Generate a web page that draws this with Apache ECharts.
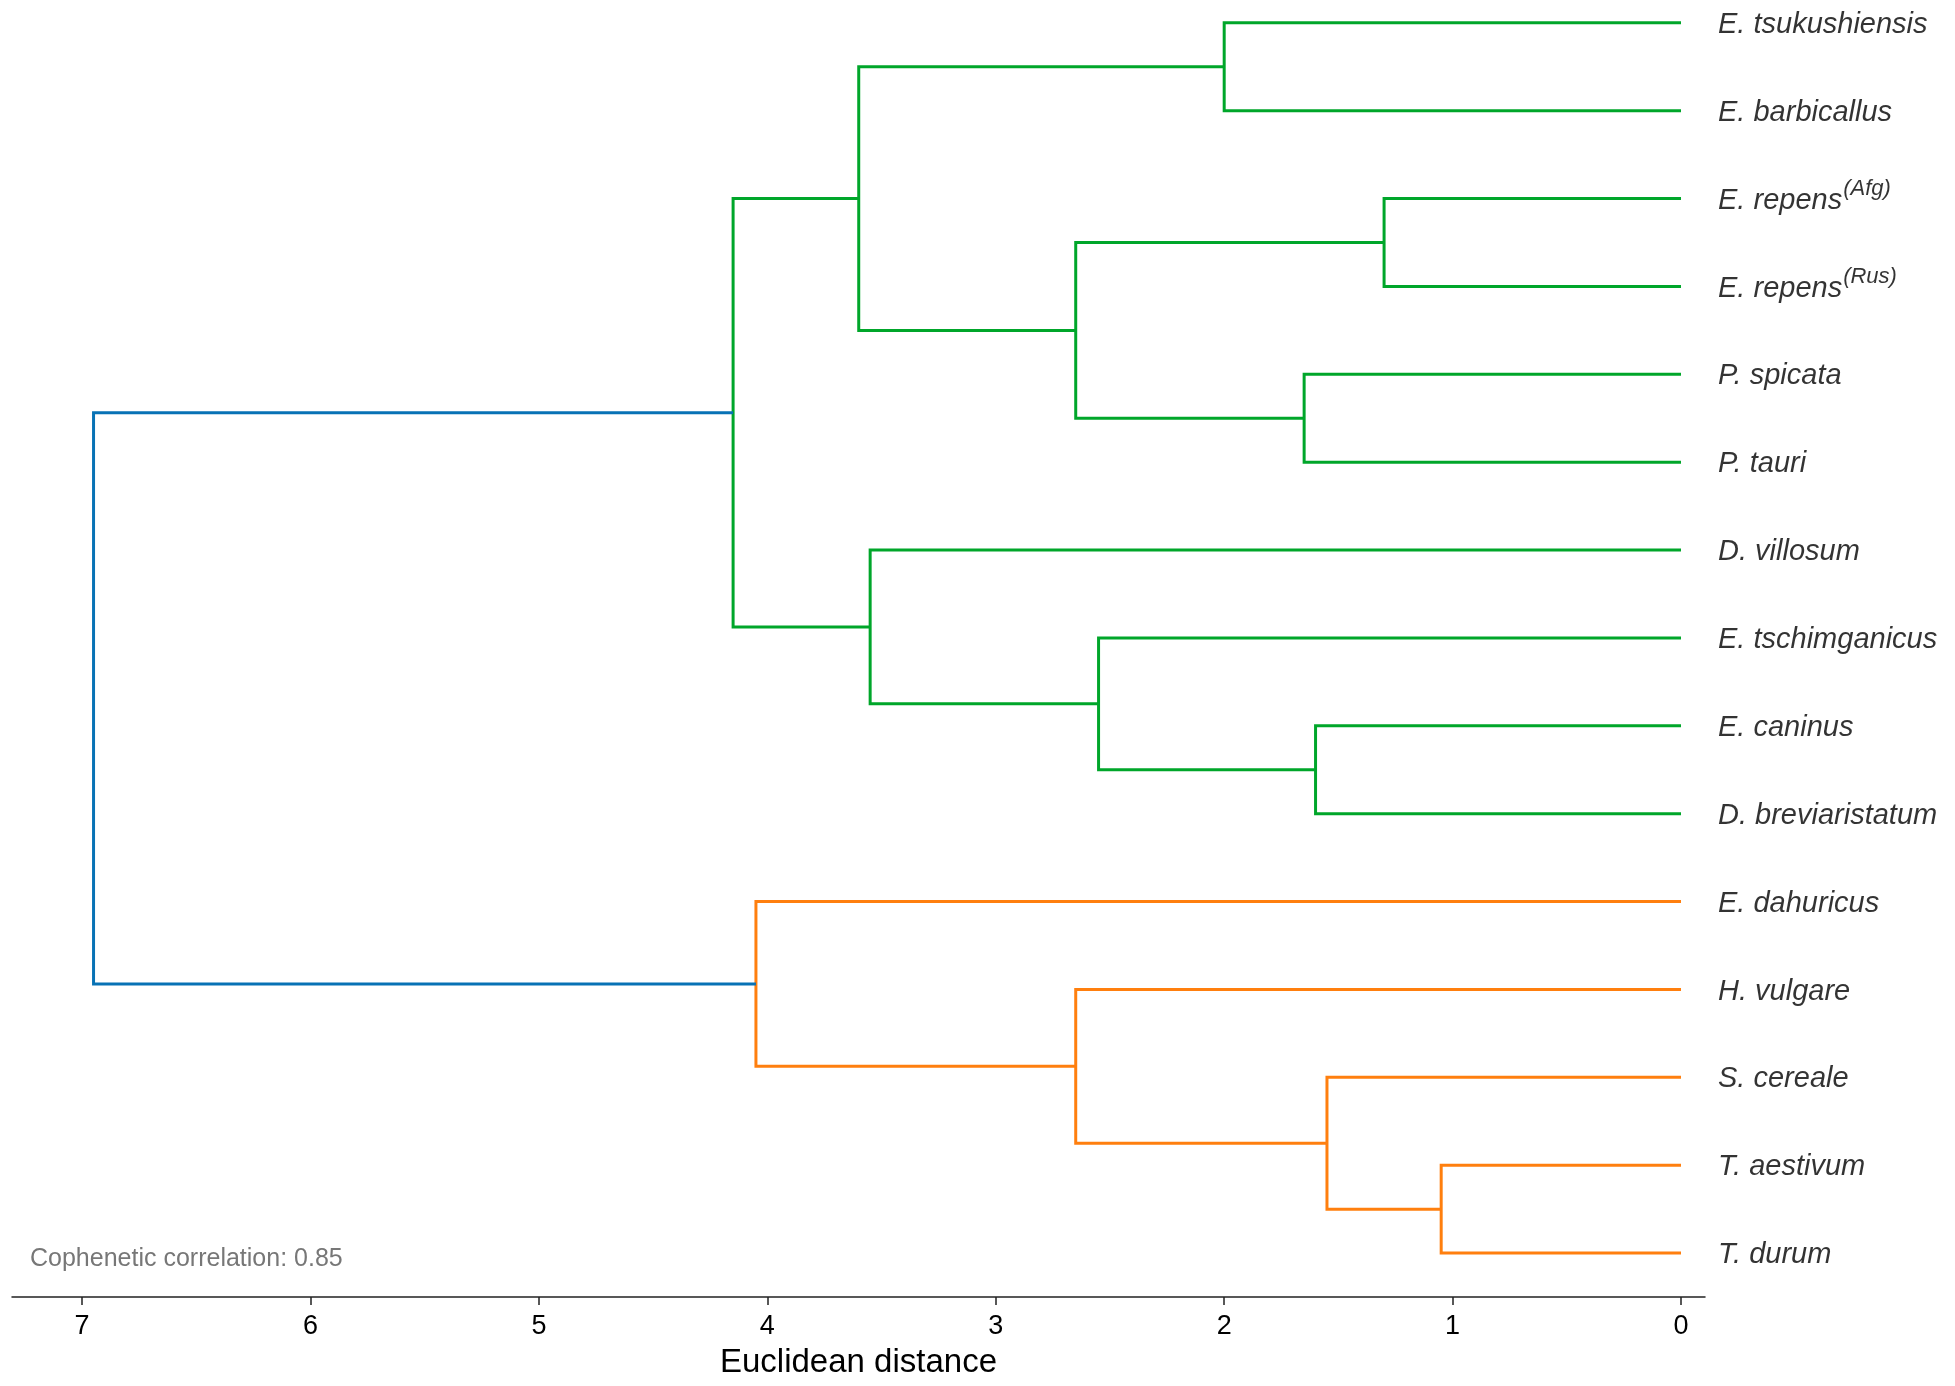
<!DOCTYPE html>
<html>
<head>
<meta charset="utf-8">
<title>Dendrogram</title>
<script src="https://cdn.jsdelivr.net/npm/echarts@6/dist/echarts.min.js"></script>
<style>
	html, body { margin: 0; padding: 0; background: #fff; }
	#main { width: 1955px; height: 1386px; }
</style>
</head>
<body>
<div id="main"></div>
<script>
// leaves, top to bottom
var leafNames = ['E. tsukushiensis', 'E. barbicallus', 'E. repens', 'E. repens', 'P. spicata', 'P. tauri',
	'D. villosum', 'E. tschimganicus', 'E. caninus', 'D. breviaristatum',
	'E. dahuricus', 'H. vulgare', 'S. cereale', 'T. aestivum', 'T. durum'];
var leafSup = ['', '', '(Afg)', '(Rus)', '', '', '', '', '', '', '', '', '', '', ''];

// merges: node ids 0..14 are leaves, 15.. are clusters in order of creation
var mergeA = [0, 2, 4, 16, 15, 8, 7, 6, 19, 13, 12, 11, 10, 23];
var mergeB = [1, 3, 5, 17, 18, 9, 20, 21, 22, 14, 24, 25, 26, 27];
var mergeDist = [2.00, 1.30, 1.65, 2.65, 3.60, 1.60, 2.55, 3.55, 4.15, 1.05, 1.55, 2.65, 4.05, 6.95];
var mergeGroup = ['g', 'g', 'g', 'g', 'g', 'g', 'g', 'g', 'g', 'o', 'o', 'o', 'o', 'b'];

var tickValues = [0, 1, 2, 3, 4, 5, 6, 7];
var corrText = 'Cophenetic correlation: 0.85';

var colors = { g: '#00a62a', o: '#ff7f0e', b: '#0872b5' };

// positions of every node
var nodeX = [];
var nodeY = [];
for (var i = 0; i < leafNames.length; i++) {
	nodeX.push(0);
	nodeY.push(i);
}
var branches = [];
for (var k = 0; k < mergeA.length; k++) {
	var a = mergeA[k], b = mergeB[k], d = mergeDist[k];
	branches.push({
		coords: [[nodeX[a], nodeY[a]], [d, nodeY[a]], [d, nodeY[b]], [nodeX[b], nodeY[b]]],
		lineStyle: { color: colors[mergeGroup[k]] }
	});
	nodeX.push(d);
	nodeY.push((nodeY[a] + nodeY[b]) / 2);
}

var leafPoints = [];
for (var j = 0; j < leafNames.length; j++) {
	leafPoints.push([0, j]);
}

var myChart = echarts.init(document.getElementById('main'));
var option = {
	animation: false,
	backgroundColor: '#fff',
	grid: { left: 12, right: 250, top: 0, bottom: 89 },
	xAxis: {
		type: 'value',
		position: 'bottom',
		inverse: true,
		min: -0.105,
		max: 7.307,
		name: 'Euclidean distance',
		nameLocation: 'middle',
		nameGap: 49,
		nameTextStyle: { fontFamily: 'Liberation Sans', fontSize: 33, color: '#000' },
		axisLine: { show: true, onZero: false, lineStyle: { color: '#222', width: 1.5 } },
		axisTick: { show: true, customValues: tickValues, length: 8, lineStyle: { color: '#222', width: 1.5 } },
		axisLabel: { customValues: tickValues, fontFamily: 'Liberation Sans', fontSize: 27, color: '#000', margin: 16 },
		splitLine: { show: false }
	},
	yAxis: {
		type: 'value',
		inverse: true,
		min: -0.26,
		max: 14.5,
		show: false
	},
	graphic: [{
		type: 'text',
		left: 30,
		top: 1247,
		style: { text: corrText, fontFamily: 'Liberation Sans', fontSize: 25, fill: '#777' }
	}],
	series: [{
		type: 'lines',
		coordinateSystem: 'cartesian2d',
		polyline: true,
		silent: true,
		lineStyle: { width: 3, opacity: 1 },
		data: branches
	}, {
		type: 'scatter',
		symbolSize: 0,
		silent: true,
		data: leafPoints,
		label: {
			show: true,
			position: 'right',
			distance: 37,
			offset: [0, 2],
			formatter: function (p) {
				var i = p.dataIndex;
				var s = '{m|' + leafNames[i] + '}';
				if (leafSup[i]) s += '{s|' + leafSup[i] + '}';
				return s;
			},
			rich: {
				m: { fontFamily: 'Liberation Sans', fontStyle: 'italic', fontSize: 29, color: '#000', lineHeight: 46, verticalAlign: 'middle' },
				s: { fontFamily: 'Liberation Sans', fontStyle: 'italic', fontSize: 22, color: '#000', lineHeight: 22, padding: [0, 0, 24, 1], verticalAlign: 'top' }
			}
		}
	}]
};
myChart.setOption(option);
</script>
</body>
</html>
